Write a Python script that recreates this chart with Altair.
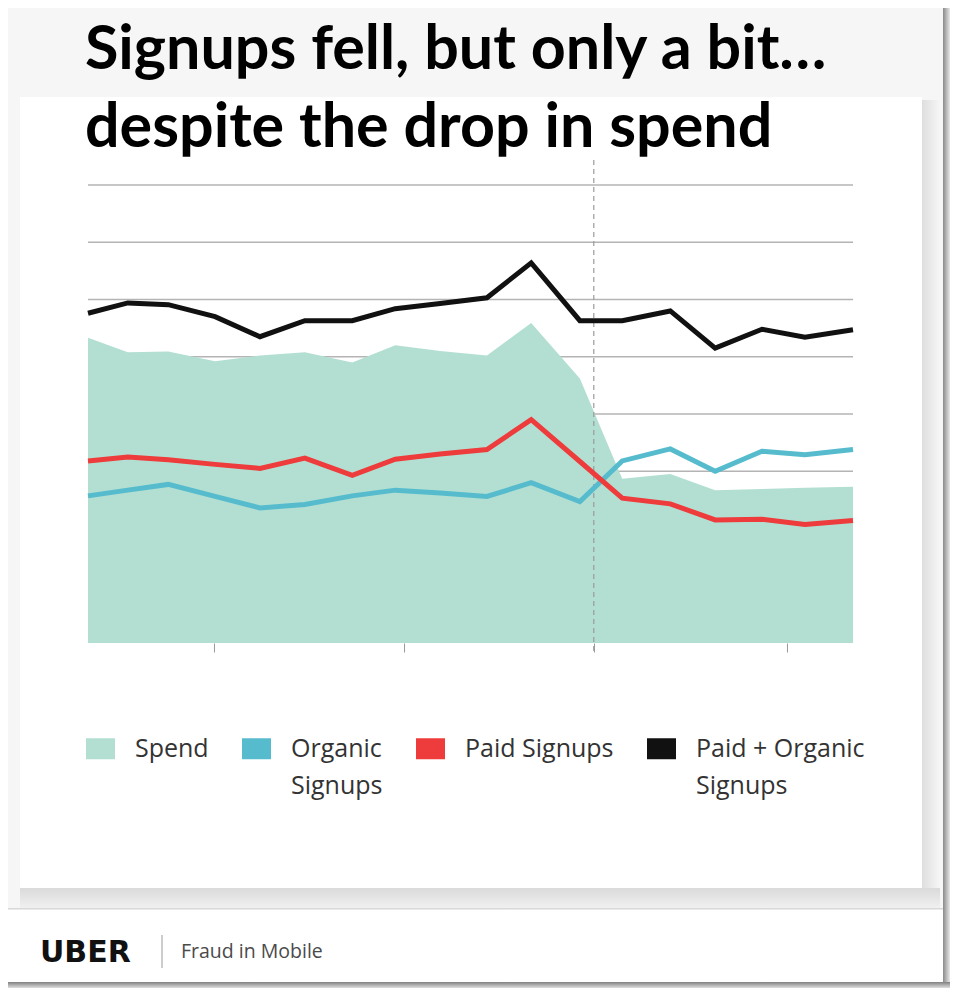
import altair as alt
import pandas as pd

# values (arbitrary units, no axis labels shown)
days = [0, 6.3, 12.7, 20.1, 27.2, 34.3, 41.8, 48.6, 55.7, 63.1, 70.1, 77.8, 84.5, 92.1, 99.2, 106.6, 113.4, 121]
spend = [5.33, 5.08, 5.09, 4.92, 5.02, 5.08, 4.90, 5.20, 5.10, 5.02, 5.59, 4.62, 2.87, 2.95, 2.67, 2.69, 2.71, 2.73]
organic = [2.57, 2.67, 2.77, 2.56, 2.36, 2.42, 2.57, 2.67, 2.62, 2.56, 2.80, 2.47, 3.18, 3.39, 3.00, 3.35, 3.29, 3.38]
paid = [3.18, 3.25, 3.20, 3.12, 3.05, 3.23, 2.93, 3.21, 3.30, 3.38, 3.90, 3.17, 2.53, 2.43, 2.15, 2.16, 2.07, 2.14]
total = [5.76, 5.94, 5.91, 5.70, 5.35, 5.63, 5.63, 5.84, 5.93, 6.03, 6.64, 5.63, 5.63, 5.80, 5.15, 5.48, 5.34, 5.47]

series_names = ["Spend", "Organic Signups", "Paid Signups", "Paid + Organic Signups"]
series_colors = ["#b3dfd2", "#56bccd", "#ee3b3b", "#111111"]
grid_levels = [1, 2, 3, 4, 5, 6, 7, 8]
tick_days = [20, 50, 80, 110.6]
launch_day = 80

title_lines = ["Signups fell, but only a bit…", "despite the drop in spend"]
brand = "UBER"
deck_name = "Fraud in Mobile"

# plot area position on the page
X0, Y0 = 88, 185
W, H = 765, 458


def px(x):
    return x - X0


def py(y):
    return y - Y0


one = pd.DataFrame({"k": [0]})


def box(x0, y0, x1, y1, fill):
    """Decoration rectangle given in page pixels."""
    return alt.Chart(one).mark_rect(fill=fill, strokeWidth=0).encode(
        x=alt.value(px(x0)), x2=alt.value(px(x1)),
        y=alt.value(py(y0)), y2=alt.value(py(y1)),
    )


def grad(c0, c1, horizontal=True):
    return alt.LinearGradient(
        gradient="linear",
        stops=[alt.GradientStop(color=c0, offset=0), alt.GradientStop(color=c1, offset=1)],
        x1=0, y1=0, x2=1 if horizontal else 0, y2=0 if horizontal else 1,
    )


def label(text, x, y, **kw):
    return alt.Chart(one).mark_text(align="left", baseline="alphabetic", **kw).encode(
        x=alt.value(px(x)), y=alt.value(py(y)), text=alt.value(text)
    )


# slide, card, footer
slide = box(0, 0, 943, 909, "#f6f6f6")
shadow_r = box(922, 100, 940, 906, grad("#dedede", "#f6f6f6"))
shadow_b = box(20, 888, 940, 908, grad("#dadada", "#f0f0f0", horizontal=False))
card = box(20, 97, 922, 888, "#ffffff")
footer = box(0, 909, 943, 982, "#ffffff")
footer_line = box(0, 908, 943, 909.5, "#d8d8d8")
edge_r = box(943, 4, 950, 990, grad("#8a8a8a", "#e8e8e8"))
edge_b = box(4, 982, 950, 989, grad("#808080", "#eeeeee", horizontal=False))
sep = alt.Chart(one).mark_rule(color="#9a9a9a", strokeWidth=1).encode(
    x=alt.value(px(162)), y=alt.value(py(935)), y2=alt.value(py(968))
)

title1 = label(title_lines[0], 85, 69, font="Lato", fontSize=61, fontWeight="bold", color="#000000")
title2 = label(title_lines[1], 85, 147, font="Lato", fontSize=61, fontWeight="bold", color="#000000")
brand_txt = label(brand, 40, 962, font="DejaVu Sans", fontSize=30, fontWeight="bold", color="#111111")
deck_txt = label(deck_name, 181, 958, font="Open Sans", fontSize=19.5, color="#4a4a4a")

# chart data
wide = pd.DataFrame({
    "day": days,
    "Spend": spend,
    "Organic Signups": organic,
    "Paid Signups": paid,
    "Paid + Organic Signups": total,
})
long = wide.melt("day", var_name="series", value_name="value")

rect_path = "M-1.38,-1L1.38,-1L1.38,1L-1.38,1Z"
color = alt.Color(
    "series:N",
    scale=alt.Scale(domain=series_names, range=series_colors),
    legend=alt.Legend(
        orient="none", legendX=0, legendY=551, direction="horizontal", columns=4,
        title=None, padding=0, symbolType=rect_path, symbolSize=441,
        symbolStrokeWidth=0, symbolOpacity=1,
        labelFont="Open Sans", labelFontSize=25, labelColor="#333333",
        labelOffset=22, columnPadding=33, labelLimit=400,
        labelExpr=(
            "datum.label == 'Organic Signups' ? ['Organic', 'Signups'] : "
            "datum.label == 'Paid + Organic Signups' ? ['Paid + Organic', 'Signups'] : [datum.label, '']"
        ),
    ),
)
x = alt.X(
    "day:Q",
    scale=alt.Scale(domain=[0, 121], nice=False, zero=False),
    axis=alt.Axis(values=tick_days, labels=False, grid=False, domain=False,
                  tickSize=9, tickColor="#9a9a9a", tickWidth=1, title=None, zindex=1),
)
y = alt.Y("value:Q", scale=alt.Scale(domain=[0, 8], nice=False), axis=None)

gridlines = alt.Chart(pd.DataFrame({"value": grid_levels})).mark_rule(
    color="#b4b4b4", strokeWidth=1.5
).encode(y=y)

area = alt.Chart(long).transform_filter(alt.datum.series == "Spend").mark_area(
    opacity=1
).encode(x=x, y=y, color=color)

launch = alt.Chart(pd.DataFrame({"day": [launch_day]})).mark_rule(
    color="#9b9b9b", strokeWidth=1.2, strokeDash=[5, 4]
).encode(x=x, y=alt.value(py(160)), y2=alt.value(py(652)))


def series_line(name, width):
    return alt.Chart(long).transform_filter(alt.datum.series == name).mark_line(
        strokeWidth=width
    ).encode(x=x, y=y, color=color)


chart = alt.layer(
    slide, shadow_r, shadow_b, card, footer, footer_line, edge_r, edge_b, sep,
    title1, title2, brand_txt, deck_txt,
    gridlines, area, launch,
    series_line("Organic Signups", 5),
    series_line("Paid Signups", 5),
    series_line("Paid + Organic Signups", 5),
).properties(
    width=W, height=H,
    autosize=alt.AutoSizeParams(type="none"),
    padding={"left": 80, "top": 177, "right": 99, "bottom": 345},
    background="#ffffff",
).configure(
    style={"guide-label": {"lineHeight": 37}}
).configure_view(stroke=None)

chart.save("out.html", embed_options={"renderer": "svg", "actions": False})
